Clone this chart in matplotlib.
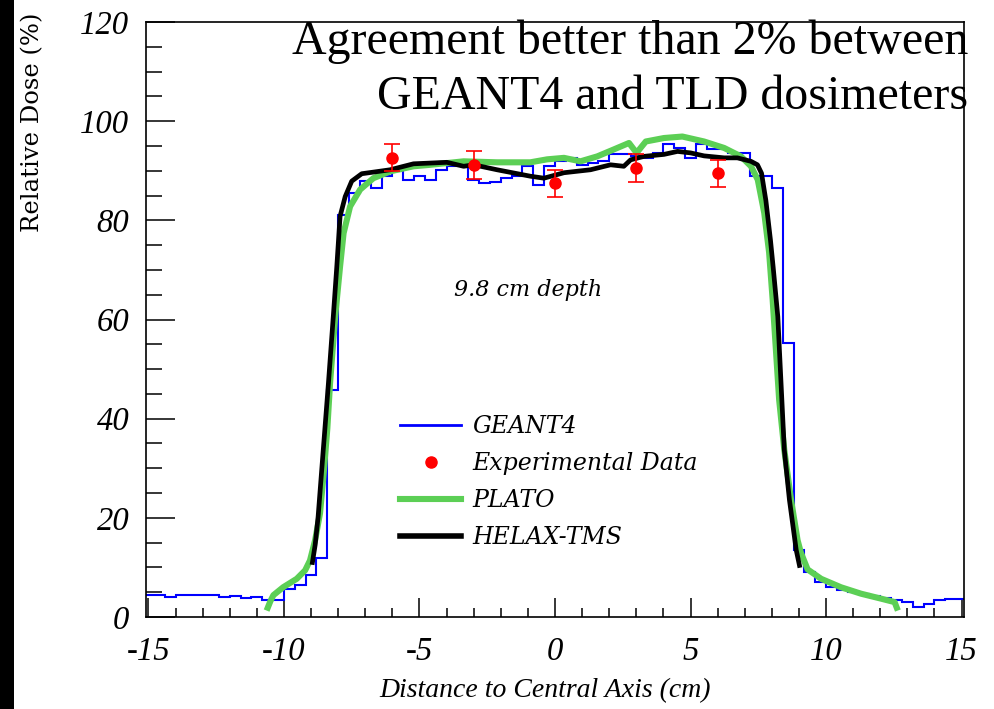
import numpy as np
import matplotlib
matplotlib.use("Agg")
import matplotlib.pyplot as plt
from matplotlib.lines import Line2D
from matplotlib.patches import Rectangle
from matplotlib.ticker import MultipleLocator

# ---------------- data ----------------
# GEANT4 histogram (0.4 cm bins from -15.2 to 15.2)
geant4_edges = np.round(np.arange(-15.2, 15.2001, 0.4), 2)
geant4_values = [
    4.4, 4.4, 4.0, 4.4, 4.4, 4.4, 4.4, 4.0, 4.3, 3.8,
    4.0, 3.4, 3.4, 5.6, 6.4, 8.4, 11.8, 45.8, 81.1, 85.5,
    88.0, 86.5, 88.9, 90.0, 88.2, 88.9, 88.2, 90.2, 90.9, 91.0,
    88.2, 87.5, 87.8, 88.5, 88.9, 90.9, 87.2, 90.9, 92.0, 92.6,
    91.2, 91.5, 92.0, 93.3, 93.3, 93.0, 92.6, 93.6, 95.3, 94.6,
    92.6, 95.3, 94.3, 94.3, 93.6, 93.6, 88.9, 88.9, 86.5, 55.3,
    13.5, 9.1, 7.1, 6.1, 5.5, 5.0, 4.6, 4.2, 3.8, 3.4,
    3.1, 2.0, 2.7, 3.4, 3.6, 3.6,
]

# Experimental (TLD) data
exp_x = [-6.0, -3.0, 0.0, 3.0, 6.0]
exp_y = [92.6, 91.1, 87.5, 90.6, 89.5]
exp_err = [2.7, 2.85, 2.75, 2.85, 2.7]

# PLATO
plato_x = [-10.64, -10.5, -10.39, -10.03, -9.53, -9.22, -9.04, -8.85, -8.67, -8.55,
           -8.40, -8.30, -8.11, -7.93, -7.80, -7.56, -7.19, -6.70, -6.06, -5.22,
           -4.6, -3.37, -2.14, -0.91, -0.29, 0.33, 0.94, 1.56, 2.17, 2.73,
           3.01, 3.35, 4.02, 4.7, 5.5, 6.24, 6.86, 7.23, 7.48, 7.72,
           7.9, 8.03, 8.15, 8.27, 8.46, 8.71, 8.95, 9.07, 9.32, 9.82,
           10.55, 11.29, 12.03, 12.53, 12.65]
plato_y = [1.3, 3.2, 4.4, 6.0, 7.7, 9.4, 11.4, 15.5, 20.9, 28.0,
           38.0, 47.1, 60.6, 70.7, 77.4, 82.8, 86.2, 88.5, 89.9, 90.9,
           91.2, 91.9, 91.7, 91.7, 92.3, 92.6, 91.9, 92.9, 94.3, 95.6,
           93.6, 95.9, 96.6, 96.9, 95.9, 94.6, 92.9, 90.9, 88.2, 81.5,
           73.5, 64.0, 53.9, 43.8, 33.7, 23.6, 15.5, 13.0, 9.6, 7.7,
           6.0, 4.7, 3.7, 3.0, 1.3]

# HELAX-TMS
helax_x = [-8.95, -8.85, -8.74, -8.55, -8.36, -8.18, -8.05, -7.93, -7.74, -7.5,
           -7.13, -6.6, -6.08, -5.22, -3.99, -3.37, -3.0, -2.14, -0.91, -0.41,
           0.33, 1.31, 2.05, 2.54, 2.79, 3.28, 4.02, 4.52, 5.0, 5.5,
           6.24, 6.73, 7.23, 7.47, 7.62, 7.78, 7.95, 8.05, 8.22, 8.34,
           8.46, 8.65, 8.9, 9.02]
helax_y = [11.0, 14.5, 20.2, 33.7, 47.1, 60.6, 70.7, 80.8, 84.8, 87.9,
           89.4, 89.8, 90.2, 91.4, 91.7, 90.9, 91.2, 90.2, 88.9, 88.5,
           89.6, 90.2, 91.2, 90.9, 92.2, 92.9, 93.3, 93.9, 93.6, 93.0,
           92.6, 92.6, 91.9, 91.2, 89.5, 84.0, 76.0, 70.5, 60.6, 47.1,
           33.7, 23.6, 13.5, 10.4]

x_ticks = [-15, -10, -5, 0, 5, 10, 15]
y_ticks = [0, 20, 40, 60, 80, 100, 120]

# ---------------- figure ----------------
W, H = 994, 709
fig = plt.figure(figsize=(W / 100, H / 100), dpi=100)
fig.patch.set_facecolor("white")
fig.patches.append(Rectangle((0, 0), 14 / W, 1, transform=fig.transFigure,
                             facecolor="black", edgecolor="none", zorder=0))

ax = fig.add_axes([146 / W, 1 - 617 / H, (964 - 146) / W, (617 - 22) / H])

ax.stairs(geant4_values, geant4_edges, color="#0000ff", lw=1.5, baseline=None,
          zorder=2)
ax.plot(plato_x, plato_y, color="#5ccf55", lw=4.4, solid_capstyle="butt", zorder=3)
ax.plot(helax_x, helax_y, color="black", lw=3.4, zorder=4)
ax.errorbar(exp_x, exp_y, yerr=exp_err, fmt="o", color="#ff0000", ms=8,
            elinewidth=1.2, capsize=6, capthick=1.2, zorder=5)

ax.set_xlim(-15.09, 15.09)
ax.set_ylim(0, 120)

serif_it = dict(family="Liberation Serif", style="italic")
ax.set_xticks(x_ticks)
ax.set_xticklabels([str(v) for v in x_ticks], fontsize=23.5, **serif_it)
ax.set_yticks(y_ticks)
ax.set_yticklabels([str(v) for v in y_ticks], fontsize=23.5, **serif_it)
ax.xaxis.set_minor_locator(MultipleLocator(1))
ax.yaxis.set_minor_locator(MultipleLocator(5))
ax.tick_params(axis="x", which="major", direction="in", length=14, width=1.1,
               pad=14, top=False)
ax.tick_params(axis="x", which="minor", direction="in", length=6.5, width=1.1,
               top=False)
ax.tick_params(axis="y", which="major", direction="in", length=21, width=1.1,
               pad=12, right=False)
ax.tick_params(axis="y", which="minor", direction="in", length=11.5, width=1.1,
               right=False)
for s in ax.spines.values():
    s.set_linewidth(1.2)

fig.text(545 / W, 1 - 691 / H, "Distance to Central Axis (cm)", ha="center",
         va="center", fontsize=20, **serif_it)
fig.text(33 / W, 1 - 13 / H, "Relative Dose (%)", rotation=90, ha="center",
         va="top", fontsize=17.5, family="DejaVu Serif")

ax.text(-1.0, 66, "9.8 cm depth", ha="center", va="center", fontsize=16,
        family="DejaVu Serif", style="italic")

fig.text(968 / W, 1 - 19 / H,
         "Agreement better than 2% between\nGEANT4 and TLD dosimeters",
         ha="right", va="top", multialignment="right", fontsize=34.5,
         linespacing=1.35, family="Liberation Serif")

handles = [
    Line2D([], [], color="#0000ff", lw=2),
    Line2D([], [], color="#ff0000", marker="o", ls="none", ms=8),
    Line2D([], [], color="#5ccf55", lw=4.4),
    Line2D([], [], color="black", lw=4),
]
labels = ["GEANT4", "Experimental Data", "PLATO", "HELAX-TMS"]
leg = ax.legend(handles, labels, loc="upper left",
                bbox_to_anchor=(400 / W, 1 - 415 / H),
                bbox_transform=fig.transFigure, frameon=False,
                borderpad=0, borderaxespad=0, handlelength=2.6,
                handletextpad=0.45, labelspacing=0.6,
                prop=dict(family="DejaVu Serif", style="italic", size=17))

fig.savefig("out.png", dpi=100)
